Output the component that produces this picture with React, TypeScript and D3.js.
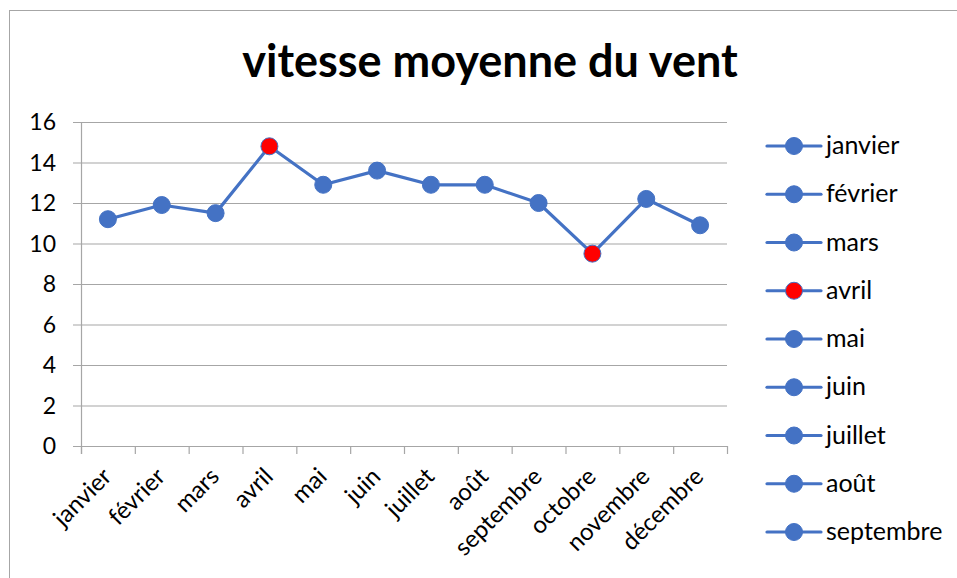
import React, { useEffect, useRef } from 'react';
import * as d3 from 'd3';

const months = ['janvier', 'février', 'mars', 'avril', 'mai', 'juin', 'juillet', 'août', 'septembre', 'octobre', 'novembre', 'décembre'];
const speeds = [11.2, 11.9, 11.5, 14.8, 12.9, 13.6, 12.9, 12.9, 12.0, 9.5, 12.2, 10.9];
const highlighted = ['avril', 'octobre'];
const legendItems = months.slice(0, 9);
const yTicks = [0, 2, 4, 6, 8, 10, 12, 14, 16];

const W = 957;
const H = 578;
const BLUE = '#4472C4';
const FONT = 'Lato, "Open Sans", sans-serif';

export default function App() {
  const ref = useRef<SVGSVGElement>(null);

  useEffect(() => {
    const svg = d3.select(ref.current);
    svg.selectAll('*').remove();

    const plot = { left: 81, right: 727, top: 122, bottom: 446 };
    const x = d3.scaleBand().domain(months).range([plot.left, plot.right]);
    const y = d3.scaleLinear().domain([0, 16]).range([plot.bottom, plot.top]);

    // chart frame
    svg.append('rect')
      .attr('x', 9.5).attr('y', 10.5)
      .attr('width', 980).attr('height', 600)
      .attr('fill', '#fff').attr('stroke', '#a6a6a6');

    svg.append('text')
      .attr('x', 490).attr('y', 77)
      .attr('text-anchor', 'middle')
      .style('font-family', FONT).style('font-weight', 'bold').style('font-size', '45px')
      .text('vitesse moyenne du vent');

    // gridlines
    svg.append('g').selectAll('line')
      .data(yTicks.filter(t => t > 0))
      .join('line')
      .attr('x1', plot.left - 8).attr('x2', plot.right)
      .attr('y1', d => y(d) + 0.5).attr('y2', d => y(d) + 0.5)
      .attr('stroke', '#a6a6a6').attr('stroke-width', 1.2);

    // y axis line
    svg.append('line')
      .attr('x1', plot.left + 0.5).attr('x2', plot.left + 0.5)
      .attr('y1', plot.top).attr('y2', plot.bottom + 8)
      .attr('stroke', '#a6a6a6').attr('stroke-width', 1.2);

    // x axis line + ticks
    svg.append('line')
      .attr('x1', plot.left - 8).attr('x2', plot.right)
      .attr('y1', plot.bottom + 0.5).attr('y2', plot.bottom + 0.5)
      .attr('stroke', '#a6a6a6').attr('stroke-width', 1.2);
    const tickXs = months.map(m => x(m) as number).concat([plot.right]);
    svg.append('g').selectAll('line')
      .data(tickXs)
      .join('line')
      .attr('x1', d => d + 0.5).attr('x2', d => d + 0.5)
      .attr('y1', plot.bottom).attr('y2', plot.bottom + 8)
      .attr('stroke', '#a6a6a6').attr('stroke-width', 1.2);

    // y labels
    svg.append('g').selectAll('text')
      .data(yTicks)
      .join('text')
      .attr('x', 56).attr('y', d => y(d) + 8)
      .attr('text-anchor', 'end')
      .style('font-family', FONT).style('font-size', '23px')
      .text(d => d);

    // x labels
    svg.append('g').selectAll('text')
      .data(months)
      .join('text')
      .attr('text-anchor', 'end')
      .attr('transform', d => `translate(${(x(d) as number) + x.bandwidth() / 2 + 5},${plot.bottom + 32}) rotate(-45)`)
      .style('font-family', FONT).style('font-size', '24px')
      .text(d => d);

    // line + markers
    const cx = (m: string) => (x(m) as number) + x.bandwidth() / 2;
    const line = d3.line<number>().x((_, i) => cx(months[i])).y(d => y(d));
    svg.append('path')
      .attr('d', line(speeds))
      .attr('fill', 'none').attr('stroke', BLUE).attr('stroke-width', 3.2)
      .attr('stroke-linejoin', 'round');
    svg.append('g').selectAll('circle')
      .data(speeds)
      .join('circle')
      .attr('cx', (_, i) => cx(months[i])).attr('cy', d => y(d))
      .attr('r', 8.5)
      .attr('fill', (_, i) => highlighted.includes(months[i]) ? '#ff0000' : BLUE)
      .attr('stroke', BLUE).attr('stroke-width', 1);

    // legend
    const ly = d3.scalePoint().domain(legendItems).range([146, 532]);
    const lg = svg.append('g').selectAll('g')
      .data(legendItems)
      .join('g')
      .attr('transform', d => `translate(0,${ly(d)})`);
    lg.append('line')
      .attr('x1', 767).attr('x2', 821)
      .attr('stroke', BLUE).attr('stroke-width', 3.2).attr('stroke-linecap', 'round');
    lg.append('circle')
      .attr('cx', 794).attr('r', 8.5)
      .attr('fill', d => highlighted.includes(d) ? '#ff0000' : BLUE)
      .attr('stroke', BLUE).attr('stroke-width', 1);
    lg.append('text')
      .attr('x', 826).attr('y', 8)
      .style('font-family', FONT).style('font-size', '25px')
      .text(d => d);
  }, []);

  return (
    <svg ref={ref} width={W} height={H}
      style={{ position: 'absolute', left: 0, top: 0, background: '#fff' }} />
  );
}
